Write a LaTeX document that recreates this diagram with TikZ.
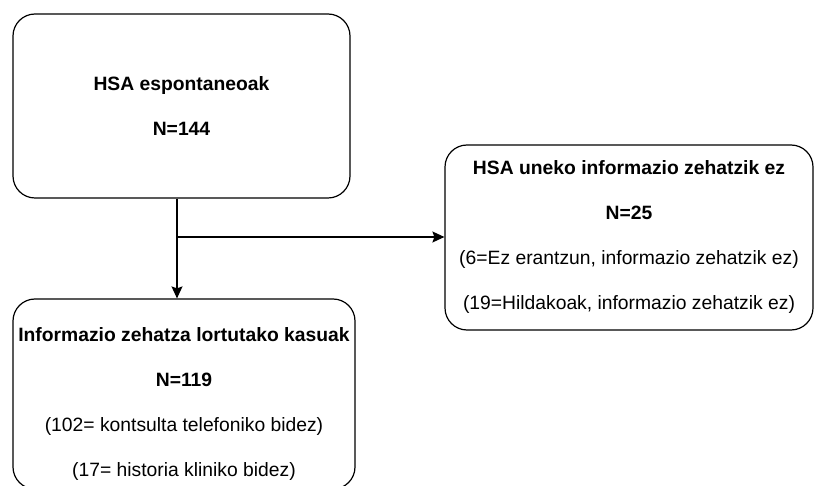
\documentclass[tikz,border=0pt]{standalone}
\usepackage{fontspec}
\setmainfont{Liberation Sans}
\usetikzlibrary{arrows.meta}

\begin{document}
\begin{tikzpicture}[x=1pt,y=-1pt,
  box/.style={draw,rounded corners=22pt,line width=1.2pt,align=center,inner sep=0pt},
  txt/.style={align=center,font=\fontsize{19.3pt}{45pt}\selectfont},
  flow/.style={line width=1.2pt,-{Stealth[length=12pt,width=11pt,inset=2pt]}}]
\useasboundingbox (0,0) rectangle (815,486);
\clip (0,0) rectangle (815,486);

\node[box,txt,minimum width=337pt,minimum height=184pt] (espontaneoak) at (181.5,106) {\textbf{HSA espontaneoak}\\\textbf{N=144}};
\node[box,txt,minimum width=368pt,minimum height=185pt] (uneko) at (629,237.5) {\textbf{HSA uneko informazio zehatzik ez}\\\textbf{N=25}\\(6=Ez erantzun, informazio zehatzik ez)\\(19=Hildakoak, informazio zehatzik ez)};
\node[box,minimum width=342pt,minimum height=190pt] (kasuak) at (184,394) {};
\node[txt] (kasuaktxt) at (184,404.5) {\textbf{Informazio zehatza lortutako kasuak}\\\textbf{N=119}\\(102= kontsulta telefoniko bidez)\\(17= historia kliniko bidez)};

% adarkatzea
\coordinate (split) at (177,237);
\draw[flow] (espontaneoak.south -| split) -- (split |- kasuak.north);
\draw[flow] (split) -- (split -| uneko.west);
\end{tikzpicture}
\end{document}
